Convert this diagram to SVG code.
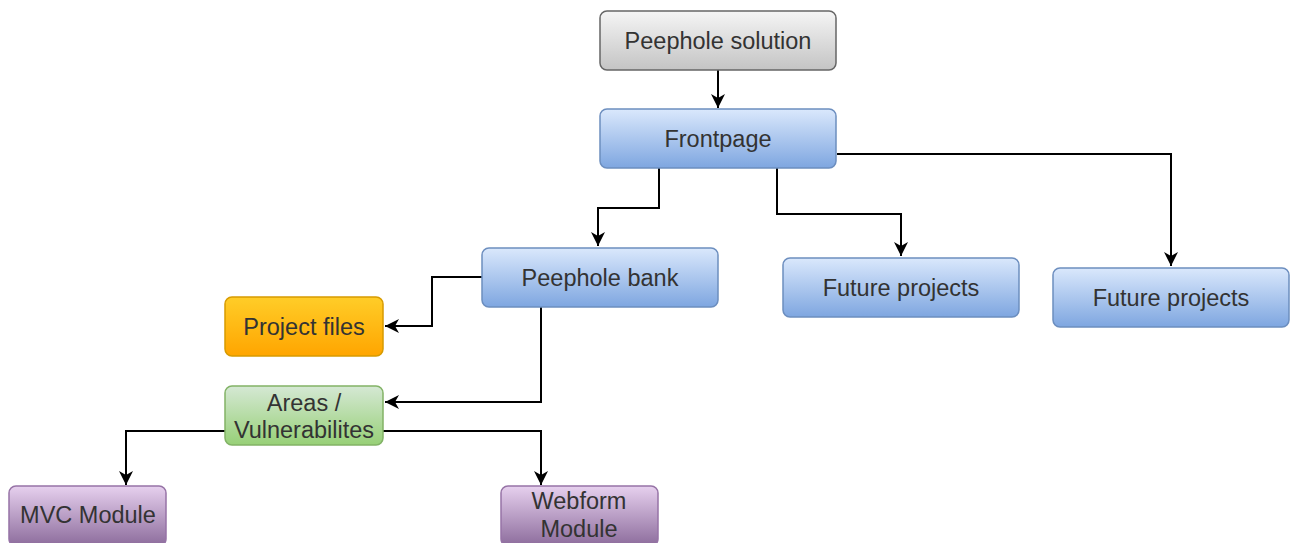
<svg xmlns="http://www.w3.org/2000/svg" width="1292" height="543" viewBox="0 0 1292 543">
<style>
.box{stroke-width:1.5}
.t{font-family:"Liberation Sans",Arial,sans-serif;font-size:23.5px;fill:#333;text-anchor:middle}
.c{fill:none;stroke:#000;stroke-width:2;marker-end:url(#arr)}
</style>
<defs>
<linearGradient id="gGray" x1="0" y1="0" x2="0" y2="1"><stop offset="0" stop-color="#f5f5f5"/><stop offset="1" stop-color="#c4c4c4"/></linearGradient>
<linearGradient id="gBlue" x1="0" y1="0" x2="0" y2="1"><stop offset="0" stop-color="#dae8fc"/><stop offset="1" stop-color="#7ea6e0"/></linearGradient>
<linearGradient id="gOrange" x1="0" y1="0" x2="0" y2="1"><stop offset="0" stop-color="#ffcd28"/><stop offset="1" stop-color="#ffa500"/></linearGradient>
<linearGradient id="gGreen" x1="0" y1="0" x2="0" y2="1"><stop offset="0" stop-color="#d5e8d4"/><stop offset="1" stop-color="#97d077"/></linearGradient>
<linearGradient id="gPurple" x1="0" y1="0" x2="0" y2="1"><stop offset="0" stop-color="#e6d0ee"/><stop offset="1" stop-color="#8c6c9c"/></linearGradient>
<marker id="arr" markerUnits="userSpaceOnUse" markerWidth="16" markerHeight="16" refX="14" refY="7" orient="auto">
<path d="M0,0 L14,7 L0,14 L4,7 Z" fill="#000"/>
</marker>
</defs>
<g id="connectors">
<path class="c" d="M718,70 V108"/>
<path class="c" d="M659,168 V208 H598 V246"/>
<path class="c" d="M777,168 V214 H901 V256"/>
<path class="c" d="M837,154 H1171 V266"/>
<path class="c" d="M482,277 H432 V326 H385"/>
<path class="c" d="M541,307 V402 H385"/>
<path class="c" d="M225,431 H126 V485"/>
<path class="c" d="M383,431 H541 V485"/>
</g>
<g id="peephole-solution">
<rect class="box" x="600" y="11" width="236" height="59" rx="7" fill="url(#gGray)" stroke="#666"/>
<text class="t" x="718" y="49">Peephole solution</text>
</g>
<g id="frontpage">
<rect class="box" x="600" y="109" width="236" height="59" rx="7" fill="url(#gBlue)" stroke="#6c8ebf"/>
<text class="t" x="718" y="147">Frontpage</text>
</g>
<g id="peephole-bank">
<rect class="box" x="482" y="248" width="236" height="59" rx="7" fill="url(#gBlue)" stroke="#6c8ebf"/>
<text class="t" x="600" y="286">Peephole bank</text>
</g>
<g id="future-projects-1">
<rect class="box" x="783" y="258" width="236" height="59" rx="7" fill="url(#gBlue)" stroke="#6c8ebf"/>
<text class="t" x="901" y="296">Future projects</text>
</g>
<g id="future-projects-2">
<rect class="box" x="1053" y="268" width="236" height="59" rx="7" fill="url(#gBlue)" stroke="#6c8ebf"/>
<text class="t" x="1171" y="306">Future projects</text>
</g>
<g id="project-files">
<rect class="box" x="225" y="297" width="158" height="59" rx="7" fill="url(#gOrange)" stroke="#d79b00"/>
<text class="t" x="304" y="335">Project files</text>
</g>
<g id="areas">
<rect class="box" x="225" y="386" width="158" height="59" rx="7" fill="url(#gGreen)" stroke="#82b366"/>
<text class="t" x="304" y="411">Areas /</text>
<text class="t" x="304" y="438">Vulnerabilites</text>
</g>
<g id="mvc-module">
<rect class="box" x="9" y="486" width="157" height="60" rx="7" fill="url(#gPurple)" stroke="#9673a6"/>
<text class="t" x="88" y="523">MVC Module</text>
</g>
<g id="webform-module">
<rect class="box" x="501" y="486" width="157" height="60" rx="7" fill="url(#gPurple)" stroke="#9673a6"/>
<text class="t" x="579" y="509">Webform</text>
<text class="t" x="579" y="537">Module</text>
</g>
</svg>
